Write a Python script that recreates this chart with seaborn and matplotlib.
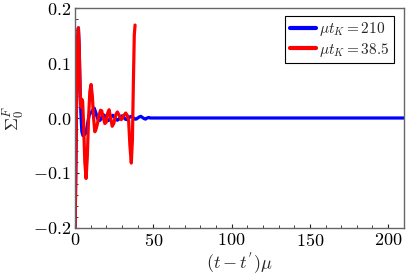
import numpy as np
import pandas as pd
import matplotlib
matplotlib.use("Agg")
import matplotlib.pyplot as plt
import seaborn as sns
from matplotlib.ticker import MultipleLocator
from matplotlib.lines import Line2D

# ---- data ----
label_blue = r"$\mu t_K = 210$"
label_red = r"$\mu t_K = 38.5$"

t_blue = [0, 0.5, 1.0, 1.5, 2.1, 2.6, 3.2, 3.7, 4.3,
          5.0, 5.8, 6.6, 7.4, 8.2, 9.0, 9.8, 10.6, 11.4, 12.2, 13.2, 14.2,
          15, 16, 17, 18, 19, 20, 21, 22, 23, 24,
          25, 26, 27, 28, 29, 30, 31, 32, 33, 34,
          35, 36, 37, 38, 39, 40, 41, 42, 43, 44,
          45, 46, 47, 48, 50, 210]
v_blue = [-0.2, -0.08, 0.05, 0.14, 0.164, 0.13, 0.05, 0.008, -0.025,
          -0.032, -0.031, -0.028, -0.02, -0.006, 0.005, 0.009, 0.011, 0.015, 0.018, 0.01, 0.0,
          -0.005, -0.004, 0.002, 0.006, 0.004, -0.002, -0.005, -0.003, 0.002, 0.005,
          0.003, -0.002, -0.004, -0.002, 0.002, 0.004, 0.002, -0.002, -0.003, -0.001,
          0.002, 0.003, 0.001, -0.002, -0.002, 0.0, 0.002, 0.003, 0.001, -0.001,
          -0.002, 0.0, 0.001, 0.0, 0.0, 0.0]

t_red = [0, 0.5, 1.0, 1.5, 2.1, 2.6, 3.2, 3.7, 4.3, 4.8,
         5.4, 6.2, 7.0, 7.8, 8.6, 9.4, 10.2, 11.0, 11.8, 12.6,
         13.4, 14.3, 15.2, 16.2, 17.0, 18.0, 19.0, 19.8, 20.7, 21.7,
         22.7, 23.7, 24.7, 26.0, 27.0, 28.3, 29.5, 31.0, 32.3, 33.3,
         34.2, 35.0, 35.9, 36.6, 37.2, 37.8, 38.3]
v_red = [-0.2, -0.08, 0.05, 0.14, 0.164, 0.13, 0.05, 0.02, 0.034, 0.03,
         -0.01, -0.08, -0.11, -0.07, 0.0, 0.048, 0.061, 0.04, 0.0, -0.025,
         -0.02, -0.01, 0.004, 0.014, 0.013, 0.0, -0.01, -0.008, 0.008, 0.015,
         0.0, -0.015, -0.01, 0.006, 0.011, 0.004, -0.003, 0.004, 0.009, 0.005,
         -0.005, -0.05, -0.082, -0.04, 0.06, 0.15, 0.169]

x_ticks = [0, 50, 100, 150, 200]
y_ticks = [-0.2, -0.1, 0.0, 0.1, 0.2]

df = pd.concat([
    pd.DataFrame({"t": t_blue, "v": v_blue, "series": label_blue}),
    pd.DataFrame({"t": t_red, "v": v_red, "series": label_red}),
], ignore_index=True)

sns.set_theme(style="ticks")
plt.rcParams["font.family"] = ["serif"]
plt.rcParams["font.serif"] = ["cmr10", "DejaVu Serif"]
plt.rcParams["mathtext.fontset"] = "cm"
plt.rcParams["axes.formatter.use_mathtext"] = True

fig = plt.figure(figsize=(4.15, 2.77), dpi=100)
ax = fig.add_axes([0.181, 0.177, 0.792, 0.794])

sns.lineplot(data=df, x="t", y="v", hue="series", sort=False, estimator=None,
             palette={label_blue: "#0000ff", label_red: "#ff0000"},
             linewidth=2.3, ax=ax, legend=False)

ax.set_xlim(0, 210)
ax.set_ylim(-0.2, 0.2)
ax.set_xticks(x_ticks)
ax.set_xticklabels([f"${v}$" for v in x_ticks])
ax.set_yticks(y_ticks)
ax.set_yticklabels([f"${v:.1f}$" for v in y_ticks])
ax.xaxis.set_minor_locator(MultipleLocator(10))
ax.yaxis.set_minor_locator(MultipleLocator(0.02))
ax.tick_params(which="both", direction="in", labelsize=13, colors="#222222",
               labelcolor="black", pad=3)
ax.tick_params(which="major", length=3, width=0.8)
ax.tick_params(which="minor", length=2, width=0.6)
for s in ax.spines.values():
    s.set_color("#666666")
    s.set_linewidth(1.0)

ax.set_xlabel(r"$(t-t^{'})\mu$", fontsize=13, labelpad=1)
ax.set_ylabel(r"$\Sigma_0^F$", fontsize=13, labelpad=4)

handles = [Line2D([], [], color="#0000ff", lw=3.0),
           Line2D([], [], color="#ff0000", lw=3.0)]
leg = ax.legend(handles, [label_blue, label_red], loc="upper right",
                bbox_to_anchor=(0.97, 0.965), fontsize=11, frameon=True,
                fancybox=False, edgecolor="black", framealpha=1,
                handlelength=1.7, handletextpad=0.2, borderpad=0.3,
                labelspacing=0.15, borderaxespad=0.0)
leg.get_frame().set_linewidth(0.8)

fig.savefig("out.png", dpi=100)
